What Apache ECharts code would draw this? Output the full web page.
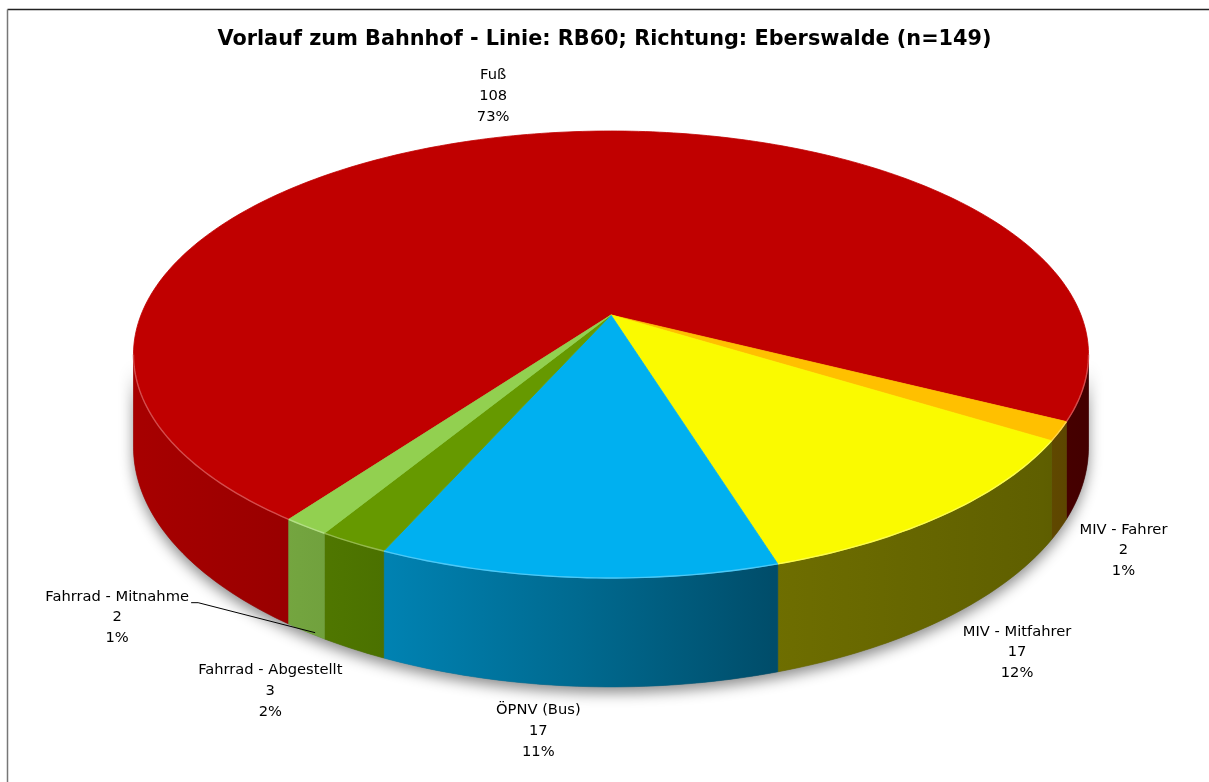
<!DOCTYPE html>
<html>
<head>
<meta charset="utf-8">
<title>Vorlauf zum Bahnhof</title>
<script src="https://cdn.jsdelivr.net/npm/echarts@6/dist/echarts.min.js"></script>
<style>
  html, body { margin: 0; padding: 0; background: #fff; }
  #chart { width: 1209px; height: 782px; }
</style>
</head>
<body>
<div id="chart"></div>
<script>
// data, in slice order (clockwise)
const categories = ['Fuß', 'MIV - Fahrer', 'MIV - Mitfahrer', 'ÖPNV (Bus)', 'Fahrrad - Abgestellt', 'Fahrrad - Mitnahme']
const counts = [108, 2, 17, 17, 3, 2]
const percentLabels = ['73%', '1%', '12%', '11%', '2%', '1%']

const colors = ['#C00000', '#FFC000', '#FAFA00', '#00B0F0', '#669900', '#92D050']
// label nudge from the rim anchor point
const labelOffsets = [[-24, -39], [64, 21], [72, 34], [-39, 45], [-83, 42], [-189, -14]]

// fake 3d pie geometry (perspective ellipse)
const firstAngle = 216
const cx = 611, cy = 315, R = 470, A = 216.5, P = 0.1767, H = 89.7
const visible = [[100.2, 259.8], [460.2, 619.8]]
const shadeStops = [[-1, 0.87], [-0.65, 0.79], [-0.47, 0.74], [-0.07, 0.6], [0.34, 0.44], [0.9, 0.38], [1, 0.35]]

function project(phi, h) {
    const r = phi * Math.PI / 180
    const x = Math.sin(r), z = -Math.cos(r)
    const d = 1 - P * z
    return [cx + R * x / d, cy + (A * z + h) / d]
}

function arc(a, b, h) {
    const pts = []
    const n = Math.max(2, Math.ceil(Math.abs(b - a)))
    for (let k = 0; k <= n; k++) pts.push(project(a + (b - a) * k / n, h))
    return pts
}

function tint(hex, f) {
    const v = parseInt(hex.slice(1), 16)
    const c = [(v >> 16) & 255, (v >> 8) & 255, v & 255].map(x => {
        const y = f <= 1 ? x * f : x + (255 - x) * (f - 1)
        return Math.round(Math.min(255, y))
    })
    return 'rgb(' + c.join(',') + ')'
}

function wallFill(hex) {
    return {
        type: 'linear', x: cx - R * 1.02, y: 0, x2: cx + R * 1.02, y2: 0, global: true,
        colorStops: shadeStops.map(s => ({offset: (s[0] + 1) / 2, color: tint(hex, s[1])}))
    }
}

const total = counts.reduce((a, b) => a + b, 0)

function renderSlice(params) {
    const i = params.dataIndex
    let s = firstAngle
    for (let j = 0; j < i; j++) s += counts[j] / total * 360
    const e = s + counts[i] / total * 360
    const children = []

    if (i === 0) {
        // soft shadow under the whole cake
        children.push({
            type: 'polygon', z2: 0, silent: true,
            shape: {points: arc(visible[0][0], visible[0][1], 0).concat(arc(visible[0][1], visible[0][0], H))},
            style: {fill: '#666', shadowBlur: 14, shadowOffsetY: 6, shadowColor: 'rgba(0,0,0,0.45)'}
        })
    }

    visible.forEach(w => {
        const a = Math.max(s, w[0]), b = Math.min(e, w[1])
        if (b > a) {
            children.push({
                type: 'polygon', z2: 2,
                shape: {points: arc(a, b, 0).concat(arc(b, a, H))},
                style: {fill: wallFill(colors[i]), stroke: wallFill(colors[i]), lineWidth: 0.6}
            })
            children.push({
                type: 'polyline', z2: 12, silent: true,
                shape: {points: arc(a, b, 0)},
                style: {stroke: tint(colors[i], 1.3), lineWidth: 1.4, fill: null}
            })
        }
    })

    children.push({
        type: 'polygon', z2: 10,
        shape: {points: [[cx, cy]].concat(arc(s, e, 0))},
        style: {fill: colors[i], stroke: colors[i], lineWidth: 0.8}
    })

    // label
    const m = (s + e) / 2
    const front = -Math.cos(m * Math.PI / 180) > 0
    const anchor = project(m, front ? H : 0)
    const lx = anchor[0] + labelOffsets[i][0]
    const ly = anchor[1] + labelOffsets[i][1]
    children.push({
        type: 'text', z2: 20, x: lx, y: ly,
        style: {
            text: categories[i] + '\n' + counts[i] + '\n' + percentLabels[i],
            fill: '#000', font: '14.7px "DejaVu Sans"', lineHeight: 20.7,
            align: 'center', verticalAlign: 'middle'
        }
    })
    if (labelOffsets[i][0] < -120) {
        // leader line for the label that sits far away
        const sx = lx + 74, sy = ly - 15
        children.push({
            type: 'polyline', z2: 20, silent: true,
            shape: {points: [[sx, sy], [sx + 7, sy], [anchor[0] + 9, anchor[1] + 1]]},
            style: {stroke: '#000', lineWidth: 1, fill: null}
        })
    }

    return {type: 'group', children: children}
}

const chart = echarts.init(document.getElementById('chart'))
chart.setOption({
    backgroundColor: '#fff',
    animation: false,
    title: {
        text: 'Vorlauf zum Bahnhof - Linie: RB60; Richtung: Eberswalde (n=149)',
        left: 'center',
        top: 24,
        textStyle: {fontFamily: 'DejaVu Sans', fontWeight: 'bold', fontSize: 20.8, color: '#000'}
    },
    graphic: [
        {type: 'line', shape: {x1: 7.5, y1: 9.5, x2: 1209, y2: 9.5}, style: {stroke: '#222', lineWidth: 1.5}},
        {type: 'line', shape: {x1: 7.5, y1: 9.5, x2: 7.5, y2: 782}, style: {stroke: '#777', lineWidth: 1.5}}
    ],
    series: [{
        type: 'custom',
        coordinateSystem: 'none',
        data: counts,
        renderItem: renderSlice
    }]
})
</script>
</body>
</html>
